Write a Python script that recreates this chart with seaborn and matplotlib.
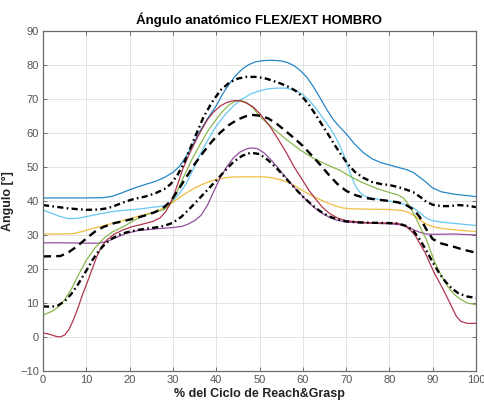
import matplotlib
matplotlib.use("Agg")
import matplotlib.pyplot as plt
import seaborn as sns
import pandas as pd

# Individual trials (shoulder flexion/extension angle, degrees) vs % of cycle
blue_x = [0, 5, 10, 14, 16, 18, 20, 22, 24, 26, 28, 30, 31.5, 33, 34.5, 36, 38, 40, 41.5, 43, 44.5, 46, 47.5, 49, 51, 53, 55, 56.5, 58, 59.5, 61, 62.5, 64, 65.5, 67, 68.5, 70, 72, 74, 76, 78, 80, 82, 84, 85.5, 87, 88.5, 90, 92, 95, 100]
blue_y = [40.9, 40.9, 40.9, 41.0, 41.4, 42.3, 43.3, 44.2, 45.0, 45.8, 46.9, 48.4, 50.2, 53.0, 56.3, 60.0, 64.2, 68.0, 71.5, 74.4, 76.9, 78.8, 80.1, 80.9, 81.3, 81.4, 81.2, 80.7, 79.8, 78.3, 76.3, 73.5, 70.3, 67.0, 64.0, 61.8, 59.8, 56.7, 54.2, 52.4, 51.3, 50.6, 49.9, 49.2, 48.4, 47.0, 45.5, 43.8, 42.7, 42.0, 41.3]

lightblue_x = [0, 2, 4, 6, 8, 10, 13, 16, 19, 22, 25, 27, 28.5, 30, 31.5, 33, 34.5, 36, 38, 40, 42, 44, 46, 48, 50, 52, 54, 56, 58, 60, 61.5, 63, 64.5, 66, 67.5, 69, 70, 71, 72, 73, 74, 76, 78, 80, 82, 84, 85.5, 87, 88.5, 90, 92, 95, 100]
lightblue_y = [37.3, 36.4, 35.4, 34.8, 34.9, 35.4, 36.2, 36.9, 37.3, 37.6, 38.1, 38.4, 38.8, 40.0, 42.2, 45.0, 48.8, 53.0, 57.8, 62.0, 65.3, 68.0, 70.0, 71.5, 72.4, 73.0, 73.2, 73.2, 72.7, 71.3, 69.6, 67.3, 64.7, 62.0, 59.0, 55.0, 51.8, 48.0, 44.8, 42.8, 41.6, 40.8, 40.4, 40.0, 39.5, 38.8, 38.0, 36.6, 35.0, 34.2, 33.8, 33.4, 32.8]

yellow_x = [0, 4, 7, 9, 11, 13, 16, 19, 22, 25.4, 28, 30, 31.5, 33, 35, 37, 39, 41, 43, 45, 48, 51, 53, 55, 57, 59, 61, 63, 65, 67, 69, 71, 75, 80, 83, 84.5, 86, 87.5, 89, 90.5, 93, 96, 100]
yellow_y = [30.3, 30.3, 30.4, 31.0, 31.8, 32.4, 33.4, 34.4, 35.5, 36.6, 38.0, 39.6, 41.0, 42.3, 43.8, 45.0, 46.0, 46.6, 47.0, 47.1, 47.1, 47.1, 46.8, 46.2, 45.3, 43.8, 42.3, 41.0, 39.8, 38.8, 38.0, 37.7, 37.6, 37.5, 37.2, 36.6, 35.5, 34.0, 32.9, 32.3, 31.8, 31.4, 31.0]

purple_x = [0, 5, 10, 13, 15, 17, 19, 22, 26, 30, 32, 33.5, 35, 36.5, 38, 39.5, 41, 42.5, 44, 45.5, 47, 48, 49.5, 51, 52.5, 54, 55.5, 57, 58.6, 60.5, 62.4, 64.3, 66.3, 68, 70, 75, 80, 82.5, 84, 85.5, 87, 88.5, 90, 95, 100]
purple_y = [27.7, 27.7, 27.6, 27.6, 28.2, 29.3, 30.4, 31.3, 31.8, 32.2, 32.5, 33.2, 34.2, 35.8, 38.8, 43.0, 47.0, 50.2, 52.7, 54.4, 55.3, 55.6, 55.4, 54.2, 52.3, 50.2, 47.8, 45.5, 43.2, 40.7, 38.3, 36.5, 35.1, 34.3, 33.8, 33.5, 33.3, 33.0, 32.5, 31.6, 30.8, 30.3, 30.2, 30.3, 30.0]

green_x = [0, 2, 3.5, 5, 6.5, 8, 10, 12, 14, 16, 18.5, 20.5, 22.4, 25, 27.8, 29, 30, 31, 32, 33.2, 34.5, 36, 38, 40, 41.5, 43, 44.5, 45.5, 47, 48.5, 50, 51.5, 53, 56.3, 59.4, 62.4, 65, 68.6, 71, 74, 77, 80, 82, 83.3, 84.5, 85.5, 86.5, 87.5, 88.6, 89.5, 90.5, 92, 93.5, 95, 96.5, 98, 100]
green_y = [6.5, 7.5, 8.8, 10.9, 14.0, 17.8, 22.6, 26.2, 29.0, 30.9, 32.4, 33.9, 35.2, 36.5, 37.4, 38.4, 40.3, 42.8, 45.8, 49.0, 52.5, 56.0, 60.5, 64.0, 66.4, 68.3, 69.4, 69.6, 69.0, 67.4, 65.0, 63.2, 61.5, 58.0, 55.0, 52.6, 51.0, 49.0, 47.2, 45.3, 43.7, 42.5, 41.8, 40.8, 38.8, 36.5, 34.0, 31.3, 28.5, 25.3, 21.9, 18.0, 14.8, 12.5, 11.0, 10.0, 9.5]

darkred_x = [0, 1.5, 3, 4, 5, 6, 7, 8, 9, 10.5, 12.4, 13.5, 14.7, 16.5, 18.5, 20.5, 22.4, 25.4, 27, 28.3, 29.3, 30.3, 31.3, 32.3, 33.5, 35, 36.5, 38, 39.5, 41, 42.5, 44, 45.5, 47, 48.5, 50, 52.4, 54.3, 56.3, 58, 60, 61.5, 63, 64.5, 66, 68, 70, 75, 80, 82, 83.5, 84.8, 86, 87, 88.3, 89.3, 90.5, 92, 93.2, 94.5, 95.5, 96.5, 98, 100]
darkred_y = [1.2, 0.8, 0.2, 0.0, 0.6, 2.2, 5.0, 8.3, 12.0, 17.0, 23.6, 26.5, 28.5, 30.3, 31.5, 32.4, 33.0, 34.0, 35.0, 36.8, 39.0, 42.0, 45.7, 49.5, 53.0, 57.0, 60.7, 64.0, 66.3, 68.0, 69.0, 69.5, 69.5, 68.8, 67.7, 65.8, 62.0, 58.2, 54.0, 50.0, 46.0, 43.0, 40.5, 38.2, 36.5, 35.0, 34.2, 33.6, 33.5, 33.4, 32.8, 31.5, 29.8, 27.5, 24.7, 21.8, 18.5, 15.0, 12.0, 8.6, 6.0, 4.6, 4.0, 4.0]

# Group mean and mean ± SD
mean_x = [0, 4, 6, 8, 10, 12, 14, 16.5, 19, 21.5, 24, 26, 28, 29.5, 31, 33, 35, 37, 39, 41, 43, 45, 47, 48.5, 50, 52, 54, 56, 58, 60, 62, 64, 66, 68, 70, 72, 74, 76, 78, 80, 82, 84, 85.7, 87, 88.5, 90, 92, 94.7, 97, 100]
mean_y = [23.7, 23.8, 25.0, 26.8, 29.0, 31.0, 32.4, 33.5, 34.2, 35.0, 35.9, 36.8, 38.2, 40.0, 42.8, 46.8, 50.8, 54.3, 57.5, 60.2, 62.4, 64.0, 65.0, 65.3, 65.1, 64.3, 62.7, 60.6, 58.5, 56.2, 53.5, 50.7, 47.7, 45.0, 43.0, 41.8, 41.0, 40.6, 40.3, 40.0, 39.6, 38.7, 37.4, 35.3, 31.7, 28.8, 27.5, 26.6, 25.7, 24.8]

upper_x = [0, 3, 6, 10, 13, 15, 17, 19, 21, 23.6, 26, 28, 29.5, 31, 32.5, 34, 35.5, 37, 39, 41, 43, 45, 47, 49, 51, 53, 55, 57, 58.6, 60, 61.5, 63, 64.5, 66, 67.5, 69, 70.5, 72, 74, 76, 78, 80, 82, 84, 85.5, 87, 88.5, 90, 92, 94, 96, 98, 100]
upper_y = [38.8, 38.3, 37.8, 37.4, 37.5, 37.9, 38.8, 39.8, 40.6, 41.3, 42.3, 43.5, 45.0, 47.5, 51.0, 55.5, 60.0, 64.5, 69.0, 72.6, 74.8, 76.0, 76.5, 76.5, 76.2, 75.4, 74.5, 73.4, 72.2, 70.5, 68.2, 65.3, 62.3, 59.3, 56.2, 53.3, 50.7, 48.6, 46.8, 45.6, 45.0, 44.7, 44.1, 43.3, 42.6, 41.3, 39.8, 38.9, 38.5, 38.5, 38.8, 38.6, 38.2]

lower_x = [0, 2, 3.5, 5, 6.5, 8, 10, 11.5, 13, 14.5, 16, 18, 20, 22, 24, 26, 28, 30, 32, 34, 36, 38, 40, 42, 44, 46, 48, 50, 52, 54, 56, 58, 60, 62, 64, 66, 68, 70, 73, 76, 80, 82, 84, 85.5, 87, 88.5, 90, 91.5, 93, 94.5, 96, 98, 100]
lower_y = [9.0, 8.9, 9.3, 10.5, 12.6, 15.3, 19.5, 22.8, 25.5, 27.6, 29.0, 30.3, 31.0, 31.5, 31.9, 32.2, 32.7, 33.6, 35.4, 37.9, 40.6, 43.3, 46.0, 48.9, 51.5, 53.3, 54.2, 53.8, 52.0, 49.6, 46.8, 44.0, 41.3, 39.0, 37.0, 35.5, 34.6, 34.0, 33.7, 33.6, 33.5, 33.4, 32.6, 31.3, 28.7, 25.5, 22.0, 18.8, 16.2, 14.2, 12.8, 11.9, 11.5]

x_ticks = list(range(0, 101, 10))
y_ticks = list(range(-10, 91, 10))

trials = [
    (blue_x, blue_y, "#0072BD"),
    (lightblue_x, lightblue_y, "#4DBEEE"),
    (yellow_x, yellow_y, "#EDB120"),
    (purple_x, purple_y, "#7E2F8E"),
    (green_x, green_y, "#77AC30"),
    (darkred_x, darkred_y, "#A2142F"),
]

sns.set_theme(style="white")
plt.rcParams["font.family"] = ["Liberation Sans", "DejaVu Sans"]

fig = plt.figure(figsize=(4.84, 4.03), dpi=100)
ax = fig.add_axes([43 / 484, 1 - 371 / 403, (476 - 43) / 484, (371 - 31) / 403])

for xs, ys, col in trials:
    df = pd.DataFrame({"x": xs, "y": ys})
    sns.lineplot(data=df, x="x", y="y", ax=ax, color=col, linewidth=0.9,
                 alpha=0.85, errorbar=None, sort=False)

dash_dot = (0, (2.6, 1.4, 0.7, 1.4))
for xs, ys, ls in [(upper_x, upper_y, dash_dot),
                   (mean_x, mean_y, (0, (3.4, 2.2))),
                   (lower_x, lower_y, dash_dot)]:
    df = pd.DataFrame({"x": xs, "y": ys})
    sns.lineplot(data=df, x="x", y="y", ax=ax, color="black", linewidth=1.7,
                 linestyle=ls, errorbar=None, sort=False)

ax.set_xlim(0, 100)
ax.set_ylim(-10, 90)
ax.set_xticks(x_ticks)
ax.set_yticks(y_ticks)
ax.grid(True, color="#e3e3e3", linewidth=0.7)
ax.set_axisbelow(True)
for s in ax.spines.values():
    s.set_visible(True)
    s.set_color("#6b6b6b")
    s.set_linewidth(0.9)
ax.tick_params(axis="both", direction="in", length=3, width=0.7, colors="#6b6b6b",
               labelcolor="#555555", labelsize=8, top=True, right=True,
               bottom=True, left=True, pad=3)

ax.set_title("Ángulo anatómico FLEX/EXT HOMBRO", fontsize=9.5, fontweight="bold",
             color="black", pad=5)
ax.set_xlabel("% del Ciclo de Reach&Grasp", fontsize=9, fontweight="bold",
              color="#222222", labelpad=2)
ax.set_ylabel("Ángulo [°]", fontsize=9, fontweight="bold", color="#222222",
              labelpad=4)

fig.savefig("out.png", dpi=100, facecolor="white")
